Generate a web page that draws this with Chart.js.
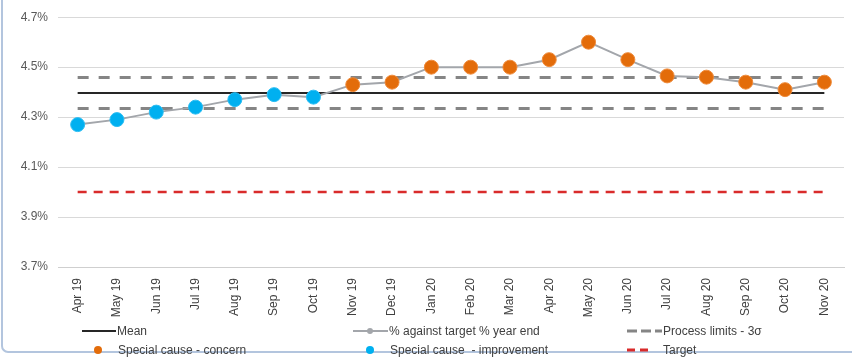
<!DOCTYPE html>
<html>
<head>
<meta charset="utf-8">
<script src="https://cdn.jsdelivr.net/npm/chart.js@4.4.1/dist/chart.umd.min.js"></script>
<style>
  html, body { margin: 0; padding: 0; background: #ffffff; }
  #wrap { position: relative; width: 852px; height: 360px; overflow: hidden; background: #fff;
          font-family: "Liberation Sans", Arial, sans-serif; }
  #frame { position: absolute; left: 1px; top: -4px; width: 860px; height: 357px;
           border-left: 2px solid #b3c5de; border-bottom: 2px solid #b3c5de;
           border-bottom-left-radius: 7px; box-sizing: border-box; }
  #chartBox { position: absolute; left: 0; top: 0; width: 852px; height: 360px; }
  .lg { position: absolute; font-size: 12px; color: #404040; white-space: pre; line-height: 14px; }
  .lgsvg { position: absolute; }
</style>
</head>
<body>
<div id="wrap">
  <div id="frame"></div>
  <div id="chartBox"><canvas id="c"></canvas></div>
  <div id="legend"></div>
</div>
<script>
// ---- data ----
const categories = ['Apr 19','May 19','Jun 19','Jul 19','Aug 19','Sep 19','Oct 19','Nov 19','Dec 19','Jan 20',
                    'Feb 20','Mar 20','Apr 20','May 20','Jun 20','Jul 20','Aug 20','Sep 20','Oct 20','Nov 20'];
const pctValues = [4.27, 4.29, 4.32, 4.34, 4.37, 4.39, 4.38, 4.43, 4.44, 4.50,
                   4.50, 4.50, 4.53, 4.60, 4.53, 4.465, 4.46, 4.44, 4.41, 4.44];
const concernValues = [null, null, null, null, null, null, null, 4.43, 4.44, 4.50,
                       4.50, 4.50, 4.53, 4.60, 4.53, 4.465, 4.46, 4.44, 4.41, 4.44];
const improvementValues = [4.27, 4.29, 4.32, 4.34, 4.37, 4.39, 4.38, null, null, null,
                           null, null, null, null, null, null, null, null, null, null];
const meanValue = 4.397;
const upperLimit = 4.459;
const lowerLimit = 4.335;
const targetValue = 4.00;
const yTicks = [3.7, 3.9, 4.1, 4.3, 4.5, 4.7];

const meanSeries = categories.map(() => meanValue);
const upperSeries = categories.map(() => upperLimit);
const lowerSeries = categories.map(() => lowerLimit);
const targetSeries = categories.map(() => targetValue);

const FONT = "'Liberation Sans', Arial, sans-serif";

new Chart(document.getElementById('c'), {
  type: 'line',
  data: {
    labels: categories,
    datasets: [
      { label: 'Special cause - concern', data: concernValues, showLine: false, order: 0,
        pointRadius: 7, pointBackgroundColor: '#e36c0a', pointBorderColor: '#ee8a3a', pointBorderWidth: 1 },
      { label: 'Special cause  - improvement', data: improvementValues, showLine: false, order: 0,
        pointRadius: 7, pointBackgroundColor: '#00b0f0', pointBorderColor: '#2cbdf2', pointBorderWidth: 1 },
      { label: '% against target % year end', data: pctValues, order: 1,
        borderColor: '#a3a6ab', borderWidth: 2, pointRadius: 0, tension: 0 },
      { label: 'Mean', data: meanSeries, order: 2,
        borderColor: '#262626', borderWidth: 2, pointRadius: 0 },
      { label: 'Process limits - 3σ', data: upperSeries, order: 3,
        borderColor: '#858585', borderWidth: 3, borderDash: [11, 10], pointRadius: 0 },
      { label: 'Process limits lower', data: lowerSeries, order: 3,
        borderColor: '#858585', borderWidth: 3, borderDash: [11, 10], pointRadius: 0 },
      { label: 'Target', data: targetSeries, order: 4,
        borderColor: '#d92b2b', borderWidth: 2.5, borderDash: [9, 7], pointRadius: 0 }
    ]
  },
  options: {
    responsive: true,
    maintainAspectRatio: false,
    animation: false,
    layout: { padding: { left: 0, right: 4, top: 17, bottom: 0 } },
    plugins: { legend: { display: false }, tooltip: { enabled: false } },
    scales: {
      x: {
        offset: true,
        grid: { display: false, offset: true },
        border: { display: true, color: '#cfcfcf' },
        ticks: { autoSkip: false, minRotation: 90, maxRotation: 90, padding: 3,
                 color: '#404040', font: { family: FONT, size: 12 } },
        afterFit: (s) => { s.height = 93; }
      },
      y: {
        min: 3.7, max: 4.7,
        afterBuildTicks: (s) => { s.ticks = yTicks.map(v => ({ value: v })); },
        grid: { color: '#d9d9d9', lineWidth: 1, drawTicks: false },
        border: { display: false },
        ticks: { padding: 10, color: '#595959', font: { family: FONT, size: 12 },
                 callback: (v) => Number(v).toFixed(1) + '%' },
        afterFit: (s) => { s.width = 58; }
      }
    }
  }
});

// ---- legend (HTML) ----
const legend = document.getElementById('legend');
function addText(txt, x, yc) {
  const d = document.createElement('div');
  d.className = 'lg'; d.textContent = txt;
  d.style.left = x + 'px'; d.style.top = (yc - 7) + 'px';
  legend.appendChild(d);
}
function addSvg(x, yc, w, inner) {
  const ns = 'http://www.w3.org/2000/svg';
  const s = document.createElementNS(ns, 'svg');
  s.setAttribute('width', w); s.setAttribute('height', 12);
  s.setAttribute('class', 'lgsvg');
  s.style.left = x + 'px'; s.style.top = (yc - 6) + 'px';
  s.innerHTML = inner;
  legend.appendChild(s);
}
const r1 = 331, r2 = 350;
addSvg(82, r1, 34, '<line x1="0" y1="6" x2="34" y2="6" stroke="#262626" stroke-width="2"/>');
addText('Mean', 117, r1);
addSvg(353, r1, 35, '<line x1="0" y1="6" x2="35" y2="6" stroke="#a3a6ab" stroke-width="2"/><circle cx="17" cy="6" r="3" fill="#a3a6ab"/>');
addText('% against target % year end', 389, r1);
addSvg(627, r1, 35, '<line x1="0" y1="6" x2="35" y2="6" stroke="#858585" stroke-width="3" stroke-dasharray="10 4"/>');
addText('Process limits - 3σ', 663, r1);
addSvg(92, r2, 12, '<circle cx="6" cy="6" r="4" fill="#e36c0a"/>');
addText('Special cause - concern', 118, r2);
addSvg(364, r2, 12, '<circle cx="6" cy="6" r="4" fill="#00b0f0"/>');
addText('Special cause  - improvement', 390, r2);
addSvg(627, r2, 26, '<line x1="0" y1="6" x2="26" y2="6" stroke="#d92b2b" stroke-width="3" stroke-dasharray="8 5"/>');
addText('Target', 663, r2);
</script>
</body>
</html>
